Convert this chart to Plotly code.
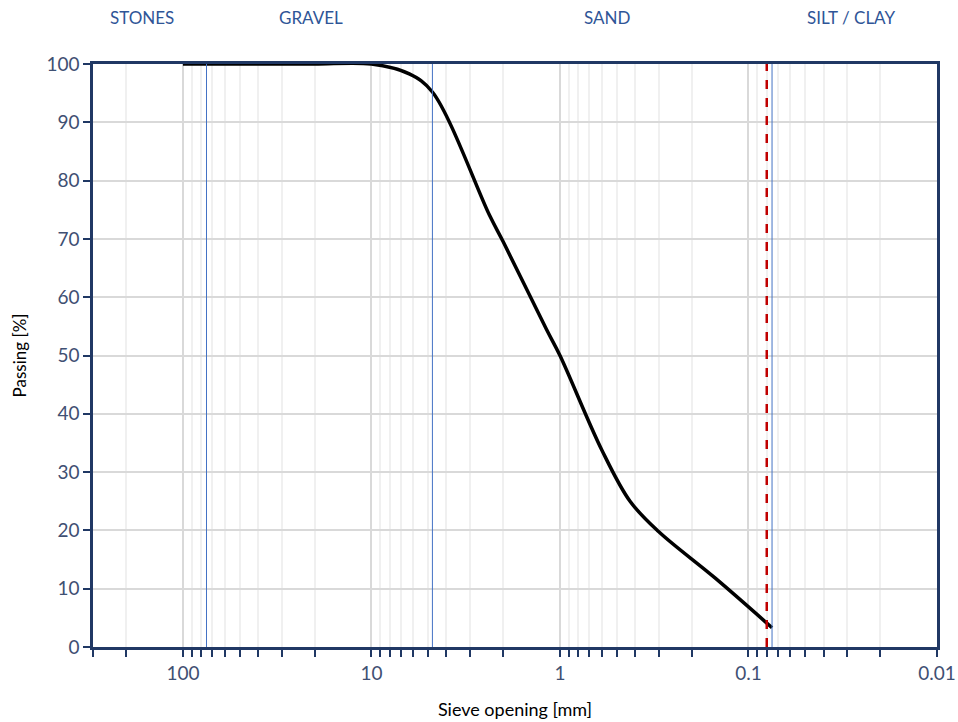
import numpy as np
import plotly.graph_objects as go

# Grading curve data (sieve opening mm, passing %)
sieve_mm = [100, 75, 63, 50, 37.5, 20, 10, 6.3, 4.75, 2.36, 2.0, 1.18, 1.0, 0.6, 0.425, 0.3, 0.15, 0.075]
passing = [100, 100, 100, 100, 100, 100, 100, 98.3, 95.2, 74.0, 69.5, 54.5, 50.0, 33.8, 25.0, 19.8, 11.8, 3.3]

# Class boundaries
boundaries_mm = [75, 4.75, 0.075]
limit_mm = 0.08

# Zone labels
zone_names = ["STONES", "GRAVEL", "SAND", "SILT / CLAY"]
zone_pos_mm = [165, 20.9, 0.56, 0.0286]

# Axis ticks
major_ticks = [100, 10, 1, 0.1, 0.01]
major_labels = ["100", "10", "1", "0.1", "0.01"]
minor_ticks = [300, 200] + [m * d for d in [10, 1, 0.1, 0.01] for m in range(2, 10)]

NAVY = "#203864"
TICKC = "#3F5073"
LABELC = "#2F5597"

fig = go.Figure()

fig.add_trace(go.Scatter(
    x=sieve_mm, y=passing, mode="lines",
    line=dict(color="black", width=3.5, shape="spline", smoothing=1.0),
    showlegend=False, hoverinfo="x+y",
))

shapes = []
for b in boundaries_mm:
    shapes.append(dict(type="line", xref="x", yref="y", x0=b, x1=b,
                       y0=0, y1=100, line=dict(color="#4472C4", width=1), layer="above"))
shapes.append(dict(type="line", xref="x", yref="y", x0=limit_mm, x1=limit_mm,
                   y0=0, y1=100, line=dict(color="#C00000", width=2.5, dash="dash"), layer="above"))

annotations = []
for name, pos in zip(zone_names, zone_pos_mm):
    annotations.append(dict(x=np.log10(pos), y=1.079, xref="x", yref="paper", text=name,
                            showarrow=False, font=dict(family="Lato", size=17, color=LABELC),
                            xanchor="center", yanchor="middle"))

fig.update_layout(
    width=958, height=722,
    margin=dict(l=93, r=21, t=64, b=75),
    paper_bgcolor="white", plot_bgcolor="white",
    font=dict(family="Lato", color=TICKC),
    shapes=shapes, annotations=annotations,
    showlegend=False,
)

fig.update_xaxes(
    type="log", range=[np.log10(300), -2], automargin=False,
    tickvals=major_ticks, ticktext=major_labels,
    tickfont=dict(family="Lato", size=19, color=TICKC),
    ticks="outside", ticklen=7, tickwidth=2, tickcolor=NAVY,
    showgrid=True, gridcolor="#d9d9d9", gridwidth=2,
    minor=dict(tickvals=minor_ticks, ticks="outside", ticklen=7, tickwidth=2, tickcolor=NAVY,
               showgrid=True, gridcolor="#f0f0f0", gridwidth=2),
    showline=True, linecolor=NAVY, linewidth=2.5, mirror=True,
    zeroline=False,
    title=dict(text="Sieve opening [mm]", font=dict(family="Lato", size=18, color="black"), standoff=21),
)

fig.update_yaxes(
    range=[0, 100], dtick=10, automargin=False,
    tickfont=dict(family="Lato", size=19, color=TICKC),
    ticks="outside", ticklen=7, tickwidth=2, tickcolor=NAVY,
    showgrid=True, gridcolor="#d9d9d9", gridwidth=2,
    showline=True, linecolor=NAVY, linewidth=2.5, mirror=True,
    zeroline=False,
    title=dict(text="Passing [%]", font=dict(family="Lato", size=17, color="black"), standoff=16),
)

fig.write_html("out.html", config={"displayModeBar": False},
               post_script="document.body.style.margin='0px';document.body.style.overflow='hidden';")
